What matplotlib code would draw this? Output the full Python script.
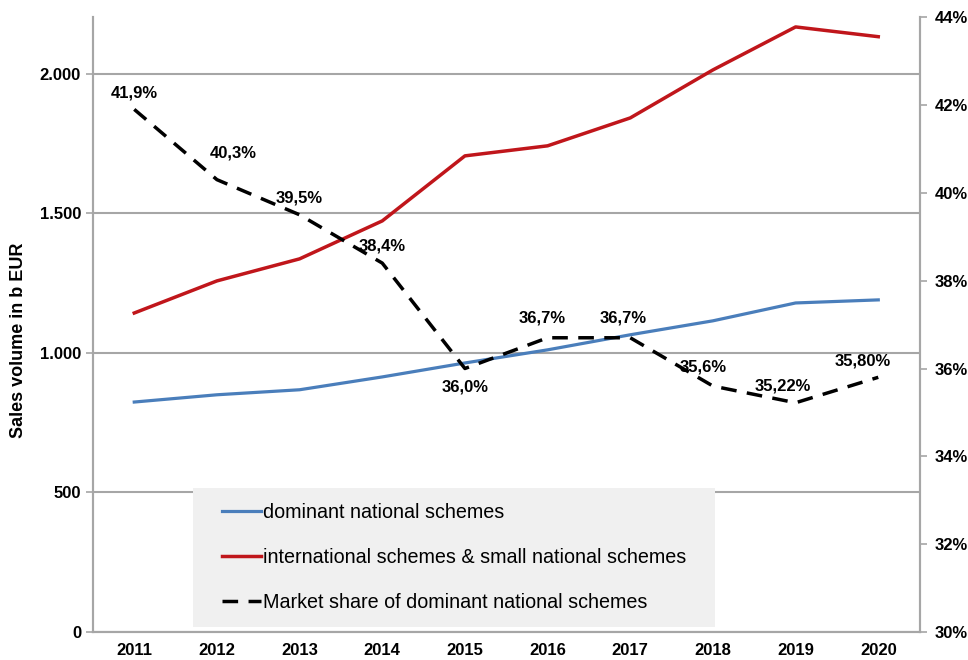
import matplotlib.pyplot as plt
from matplotlib.patches import Rectangle
from matplotlib.ticker import FuncFormatter, FixedLocator

plt.rcParams['font.family'] = ['Liberation Sans', 'DejaVu Sans']

years = [2011, 2012, 2013, 2014, 2015, 2016, 2017, 2018, 2019, 2020]
dominant = [824, 850, 868, 914, 964, 1011, 1065, 1115, 1179, 1190]
international = [1143, 1258, 1337, 1473, 1706, 1742, 1842, 2014, 2168, 2133]
share = [41.9, 40.3, 39.5, 38.4, 36.0, 36.7, 36.7, 35.6, 35.22, 35.80]
share_labels = ["41,9%", "40,3%", "39,5%", "38,4%", "36,0%", "36,7%",
                "36,7%", "35,6%", "35,22%", "35,80%"]
# label offsets in points (dx, dy)
label_off = [(0, 12), (12, 19), (0, 12), (0, 12), (0, -13), (-4, 14),
             (-5, 14), (-7, 14), (-9, 12), (-11, 12)]

grey = "#a6a6a6"
blue = "#4a7ebb"
red = "#c0161b"

fig = plt.figure(figsize=(9.68, 6.6), dpi=100)
ax = fig.add_axes([0.096, 0.0424, 0.854, 0.9316])
ax2 = ax.twinx()

l1, = ax.plot(years, dominant, color=blue, lw=2.3, label="dominant national schemes")
l2, = ax.plot(years, international, color=red, lw=2.5,
              label="international schemes & small national schemes")
l3, = ax2.plot(years, share, color="black", lw=2.5, dashes=(4.5, 3),
               label="Market share of dominant national schemes")

for x, v, s, (dx, dy) in zip(years, share, share_labels, label_off):
    ax2.annotate(s, (x, v), xytext=(dx, dy), textcoords="offset points",
                 ha="center", va="center", fontsize=12, fontweight="bold")

ax.set_xlim(2010.5, 2020.5)
ax.set_ylim(0, 2203)
ax2.set_ylim(30, 44)

ax.yaxis.set_major_locator(FixedLocator([0, 500, 1000, 1500, 2000]))
ax.yaxis.set_major_formatter(FuncFormatter(lambda v, p: f"{int(v):,}".replace(",", ".")))
ax2.yaxis.set_major_locator(FixedLocator(range(30, 45, 2)))
ax2.yaxis.set_major_formatter(FuncFormatter(lambda v, p: f"{int(v)}%"))
ax.set_xticks(years)
ax.set_xticklabels([str(y) for y in years])

ax.grid(axis="y", color=grey, lw=1.5)
ax.set_axisbelow(True)

for a in (ax, ax2):
    a.spines["top"].set_visible(False)
    for s in ("left", "right", "bottom"):
        a.spines[s].set_color(grey)
        a.spines[s].set_linewidth(1.5)
    a.tick_params(colors=grey, labelcolor="black", labelsize=12, width=1.2, length=5)
    for t in a.get_yticklabels():
        t.set_fontweight("bold")
ax.tick_params(axis="x", length=0, pad=8)
for t in ax.get_xticklabels():
    t.set_fontweight("bold")
ax2.tick_params(axis="y", pad=6)

ax.set_ylabel("Sales volume in b EUR", fontsize=13, fontweight="bold")
ax.yaxis.set_label_coords(-0.08, 0.475)

# legend background box
ax2.add_patch(Rectangle((0.121, 0.008), 0.631, 0.226, transform=ax2.transAxes,
                        facecolor="#f0f0f0", edgecolor="none", zorder=5))
leg = ax2.legend(handles=[l1, l2, l3], loc="center left",
                 bbox_to_anchor=(0.156, 0.121), frameon=False,
                 fontsize=14.2, handlelength=2.0, handletextpad=0.1,
                 labelspacing=1.33, borderpad=0, borderaxespad=0)
leg.set_zorder(10)

fig.savefig("out.png", dpi=100)
